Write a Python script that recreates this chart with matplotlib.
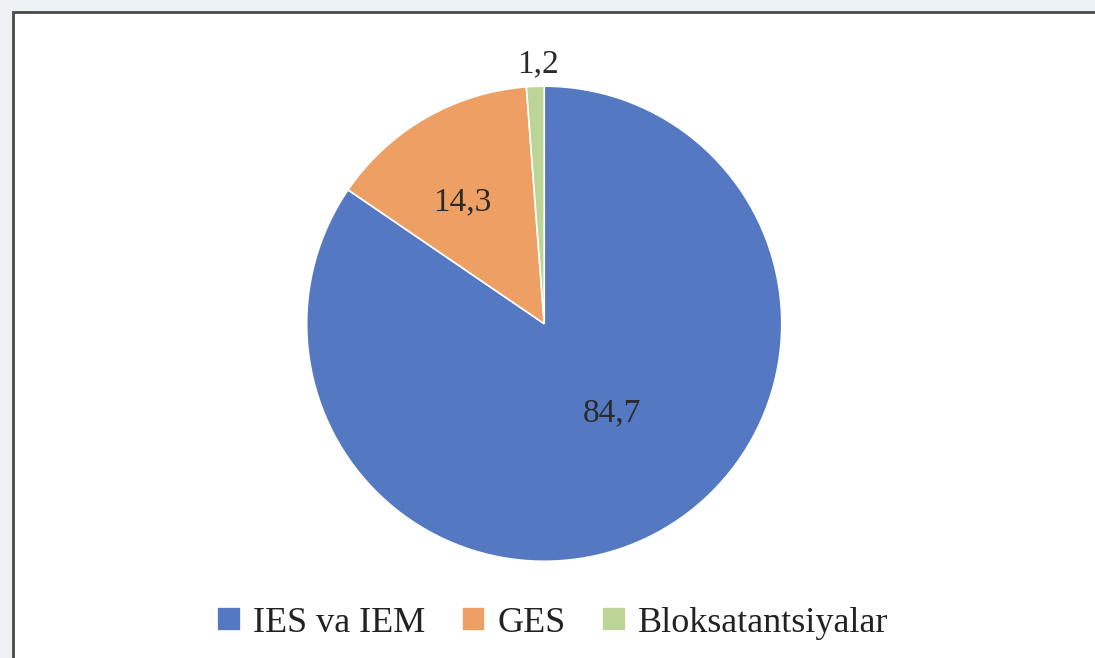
import matplotlib.pyplot as plt
from matplotlib.patches import Rectangle

labels = ["IES va IEM", "GES", "Bloksatantsiyalar"]
values = [84.7, 14.3, 1.2]
value_texts = ["84,7", "14,3", "1,2"]
colors = ["#5478c2", "#ee9f63", "#bcd596"]
# where each value label sits, in units of the pie radius
label_xy = [(0.287, -0.376), (-0.346, 0.511), (-0.025, 1.093)]

plt.rcParams['font.family'] = ['Liberation Serif', 'DejaVu Serif']

fig = plt.figure(figsize=(10.95, 6.58), dpi=100, facecolor="#eef1f4")

# white panel with a dark frame
fig.patches.append(Rectangle((13 / 1095, -0.05), 1.1, 1.05 - 12 / 658,
                             transform=fig.transFigure, facecolor="white",
                             edgecolor="#4a4a4a", linewidth=2, zorder=-10))

ax = fig.add_axes([0.497 - 0.361 * 658 / 1095, 0.508 - 0.361,
                   0.722 * 658 / 1095, 0.722])
wedges, _ = ax.pie(values, colors=colors, startangle=90, counterclock=False,
                   radius=1, wedgeprops=dict(edgecolor="white", linewidth=1.2))
ax.set_xlim(-1, 1)
ax.set_ylim(-1, 1)
ax.set_aspect("equal")

for (x, y), t in zip(label_xy, value_texts):
    ax.text(x, y, t, ha="center", va="center", fontsize=24, color="#2a2a2a",
            clip_on=False)

fig.legend(wedges, labels, loc="center", bbox_to_anchor=(0.505, 0.053),
           ncol=3, frameon=False, fontsize=26, handlelength=0.65,
           handleheight=0.65, handletextpad=0.35, columnspacing=1.0,
           labelcolor="#222222")

fig.savefig("out.png", dpi=100, facecolor=fig.get_facecolor())
